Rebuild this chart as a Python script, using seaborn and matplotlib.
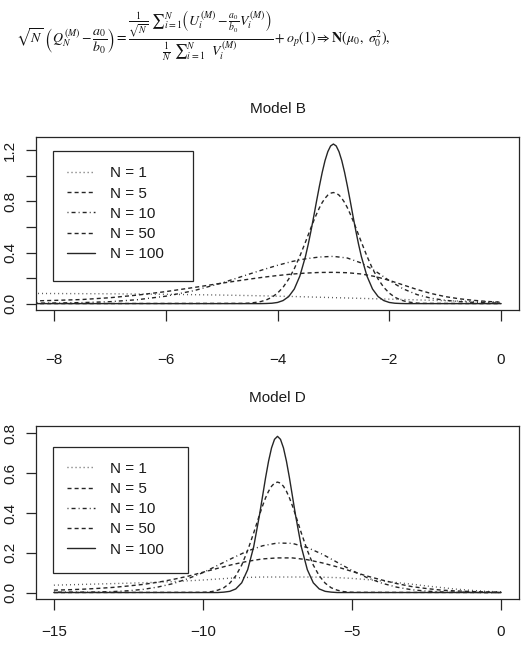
import matplotlib
matplotlib.use("Agg")
import matplotlib.pyplot as plt
import seaborn as sns
from matplotlib.patches import Rectangle

sns.set_theme(style="white")
plt.rcParams["font.family"] = ["Liberation Sans", "DejaVu Sans"]
plt.rcParams["mathtext.fontset"] = "stix"
plt.rcParams["lines.scale_dashes"] = False

# === DATA ===
labels = ["N = 1", "N = 5", "N = 10", "N = 50", "N = 100"]

# Model B
xb_wide = [-8.5, -8.0, -7.5, -7.0, -6.5, -6.0, -5.5, -5.0, -4.5, -4.25, -4.0, -3.75, -3.5,
           -3.25, -3.0, -2.75, -2.5, -2.25, -2.0, -1.75, -1.5, -1.25, -1.0, -0.75, -0.5, -0.25, 0.0]
b_n1 = [0.080, 0.079, 0.078, 0.077, 0.075, 0.073, 0.070, 0.067, 0.063, 0.061, 0.058, 0.056, 0.053,
        0.050, 0.047, 0.044, 0.041, 0.038, 0.035, 0.032, 0.029, 0.026, 0.023, 0.020, 0.017, 0.014, 0.012]
b_n5 = [0.020, 0.025, 0.032, 0.046, 0.067, 0.094, 0.126, 0.160, 0.192, 0.207, 0.220, 0.231, 0.239,
        0.244, 0.245, 0.242, 0.232, 0.212, 0.182, 0.146, 0.110, 0.079, 0.055, 0.038, 0.026, 0.017, 0.011]
b_n10 = [0.003, 0.005, 0.008, 0.015, 0.031, 0.058, 0.101, 0.161, 0.232, 0.267, 0.300, 0.329, 0.351,
         0.365, 0.370, 0.357, 0.318, 0.255, 0.180, 0.115, 0.070, 0.042, 0.026, 0.016, 0.010, 0.006, 0.004]

xb_fine = [-8.5, -4.6, -4.5, -4.4, -4.3, -4.2, -4.1, -4.0, -3.9, -3.8, -3.7, -3.6, -3.5,
           -3.45, -3.4, -3.35, -3.3, -3.25, -3.2, -3.15, -3.1, -3.05, -3.0, -2.95, -2.9, -2.85,
           -2.8, -2.75, -2.7, -2.65, -2.6, -2.55,
           -2.5, -2.4, -2.3, -2.2, -2.1, -2.0, -1.9, -1.8, -1.7, -1.6, -1.5, -1.4, 0.0]
b_n50 = [0.0, 0.002, 0.004, 0.009, 0.016, 0.029, 0.050, 0.082, 0.128, 0.192, 0.273, 0.372, 0.482,
         0.539, 0.596, 0.651, 0.703, 0.751, 0.792, 0.825, 0.850, 0.865, 0.870, 0.865, 0.850, 0.825,
         0.792, 0.751, 0.703, 0.651, 0.596, 0.539,
         0.482, 0.372, 0.273, 0.192, 0.128, 0.082, 0.050, 0.029, 0.016, 0.009, 0.004, 0.002, 0.0]
b_n100 = [0.0, 0.0, 0.0, 0.0, 0.0, 0.001, 0.003, 0.009, 0.024, 0.055, 0.114, 0.216, 0.369,
          0.465, 0.572, 0.687, 0.806, 0.921, 1.028, 1.120, 1.190, 1.235, 1.250, 1.235, 1.190, 1.120,
          1.028, 0.921, 0.806, 0.687, 0.572, 0.465,
          0.369, 0.216, 0.114, 0.055, 0.024, 0.009, 0.003, 0.001, 0.0, 0.0, 0.0, 0.0, 0.0]

# Model D
xd_wide = [-15.0, -14.5, -14.0, -13.5, -13.0, -12.5, -12.0, -11.5, -11.0, -10.5, -10.0, -9.5, -9.0,
           -8.5, -8.0, -7.5, -7.0, -6.5, -6.0, -5.5, -5.0, -4.5, -4.0, -3.5, -3.0, -2.5, -2.0, -1.5,
           -1.0, -0.5, 0.0]
d_n1 = [0.037, 0.039, 0.041, 0.043, 0.045, 0.047, 0.049, 0.052, 0.055, 0.059, 0.063, 0.068, 0.073,
        0.076, 0.078, 0.078, 0.078, 0.078, 0.077, 0.075, 0.071, 0.065, 0.058, 0.050, 0.042, 0.033,
        0.025, 0.017, 0.011, 0.006, 0.003]
d_n5 = [0.012, 0.014, 0.017, 0.021, 0.026, 0.033, 0.041, 0.052, 0.066, 0.082, 0.102, 0.122, 0.141,
        0.157, 0.169, 0.174, 0.174, 0.165, 0.149, 0.129, 0.106, 0.083, 0.063, 0.045, 0.030, 0.020,
        0.012, 0.008, 0.005, 0.003, 0.002]
d_n10 = [0.002, 0.002, 0.002, 0.003, 0.005, 0.009, 0.016, 0.028, 0.045, 0.070, 0.100, 0.137, 0.174,
         0.209, 0.235, 0.249, 0.247, 0.226, 0.193, 0.152, 0.111, 0.075, 0.047, 0.027, 0.014, 0.007,
         0.003, 0.002, 0.001, 0.0, 0.0]

xd_fine = [-15.0, -10.1, -9.9, -9.7, -9.5, -9.3, -9.1, -8.9, -8.7, -8.5, -8.3, -8.1,
           -8.0, -7.9, -7.8, -7.7, -7.6, -7.5, -7.4, -7.3, -7.2, -7.1, -7.0,
           -6.9, -6.7, -6.5, -6.3, -6.1, -5.9, -5.7, -5.5, -5.3, -5.1, -4.9, 0.0]
d_n50 = [0.0, 0.001, 0.002, 0.005, 0.012, 0.024, 0.047, 0.084, 0.138, 0.212, 0.299, 0.392,
         0.436, 0.476, 0.509, 0.534, 0.550, 0.555, 0.550, 0.534, 0.509, 0.476, 0.436,
         0.392, 0.299, 0.212, 0.138, 0.084, 0.047, 0.024, 0.012, 0.005, 0.002, 0.001, 0.0]
d_n100 = [0.0, 0.0, 0.0, 0.0, 0.0, 0.002, 0.006, 0.018, 0.049, 0.115, 0.229, 0.393,
          0.485, 0.577, 0.660, 0.727, 0.770, 0.785, 0.770, 0.727, 0.660, 0.577, 0.485,
          0.393, 0.229, 0.115, 0.049, 0.018, 0.006, 0.002, 0.0, 0.0, 0.0, 0.0, 0.0]

# === STYLES ===
ink = "#262626"
line_styles = {
    "N = 1": (0, (0.7, 2.2)),
    "N = 5": (0, (2.9, 2.2)),
    "N = 10": (0, (0.7, 2.2, 2.9, 2.2)),
    "N = 50": (0, (2.9, 2.2)),
    "N = 100": "-",
}
line_colors = {"N = 1": "#555555", "N = 5": ink, "N = 10": ink, "N = 50": ink, "N = 100": ink}

fig = plt.figure(figsize=(5.29, 6.45), dpi=100)
fig.patch.set_facecolor("white")

fig.text(0.03, 1 - 36 / 645,
         r"$\sqrt{N}\ \left(Q_N^{(M)}-\dfrac{a_0}{b_0}\right)="
         r"\dfrac{\frac{1}{\sqrt{N}}\ {\sum}_{i=1}^{N}\left(U_i^{(M)}-\frac{a_0}{b_0}V_i^{(M)}\right)}"
         r"{\frac{1}{N}\ {\sum}_{i=1}^{N}\ \ V_i^{(M)}}+o_p(1)\Rightarrow\mathbf{N}(\mu_0,\ \sigma_0^2),$",
         fontsize=10, ha="left", va="center", color="#111111")

ax_b = fig.add_axes([36 / 529, 1 - 310 / 645, 483 / 529, 173 / 645])
ax_d = fig.add_axes([36 / 529, 1 - 599.3 / 645, 483 / 529, 173.3 / 645])

panels = [
    (ax_b, "Model B", [(xb_wide, b_n1), (xb_wide, b_n5), (xb_wide, b_n10), (xb_fine, b_n50), (xb_fine, b_n100)],
     (-8.32, 0.32), (-0.05, 1.305), [-8, -6, -4, -2, 0], [0, 0.2, 0.4, 0.6, 0.8, 1.0, 1.2],
     ["0.0", "", "0.4", "", "0.8", "", "1.2"], (0.0358, 0.169, 0.2899, 0.752), 0.830, 23),
    (ax_d, "Model D", [(xd_wide, d_n1), (xd_wide, d_n5), (xd_wide, d_n10), (xd_fine, d_n50), (xd_fine, d_n100)],
     (-15.6, 0.6), (-0.034, 0.837), [-15, -10, -5, 0], [0, 0.2, 0.4, 0.6, 0.8],
     ["0.0", "0.2", "0.4", "0.6", "0.8"], (0.0358, 0.1535, 0.2782, 0.7271), 0.794, 11),
]

for ax, title, series, xlim, ylim, xt, yt, ytl, frame, leg_top, xpad in panels:
    for lab, (xs, ys) in zip(labels, series):
        sns.lineplot(x=xs, y=ys, ax=ax, color=line_colors[lab], linestyle=line_styles[lab],
                     linewidth=1.0, label=lab, estimator=None, sort=False)
    ax.set_xlim(*xlim)
    ax.set_ylim(*ylim)
    ax.set_xticks(xt)
    ax.set_xticklabels([f"{v:g}".replace("-", "\u2212") for v in xt])
    ax.set_yticks(yt)
    ax.set_yticklabels(ytl, rotation=90, va="center")
    ax.set_xlabel("")
    ax.set_ylabel("")
    ax.set_title(title, fontsize=11, pad=17.5, color="#1a1a1a")
    ax.tick_params(axis="x", direction="out", length=7.7, width=0.9, pad=xpad, labelsize=11,
                   color=ink, labelcolor="#1a1a1a", bottom=True)
    ax.tick_params(axis="y", direction="out", length=7.2, width=0.9, pad=6.3, labelsize=11,
                   color=ink, labelcolor="#1a1a1a", left=True)
    for sp in ax.spines.values():
        sp.set_color(ink)
        sp.set_linewidth(0.9)
    ax.legend(loc="upper left", bbox_to_anchor=(0.0636, leg_top), frameon=False, fontsize=11,
              borderpad=0, handlelength=1.85, handletextpad=0.98, labelspacing=0.406,
              borderaxespad=0, labelcolor="#1a1a1a")
    ax.add_patch(Rectangle((frame[0], frame[1]), frame[2], frame[3], transform=ax.transAxes,
                           fill=False, edgecolor=ink, linewidth=0.9, zorder=5))

fig.savefig("out.png", dpi=100, facecolor="white")
